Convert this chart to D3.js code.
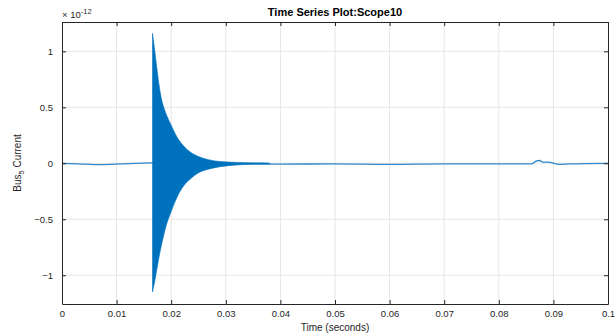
<!DOCTYPE html>
<html><head><meta charset="utf-8">
<script src="https://cdn.jsdelivr.net/npm/d3@7"></script>
<style>body{margin:0;background:#fff}svg{display:block;font-family:"Liberation Sans",Arial,sans-serif}</style>
</head><body><svg id="c" width="615" height="333"></svg>
<script>
// Baseline signal (units of 1e-12)
const baseT = [0,0.003,0.006,0.009,0.012,0.0165,0.02,0.03,0.04,0.05,0.06,0.07,0.08,0.086,0.0868,0.0875,0.088,0.089,0.0905,0.091,0.093,0.1];
const baseV = [0,-0.005,-0.012,-0.01,-0.003,0.003,0,0,-0.008,-0.005,-0.01,-0.005,-0.005,-0.005,0.02,0.025,0.01,0.01,-0.005,-0.01,-0.005,0];
// Oscillation burst envelope (upper / lower), units of 1e-12
const burstT = [0.01658,0.0170,0.0175,0.0180,0.0185,0.0190,0.0200,0.0210,0.0220,0.0235,0.0250,0.0270,0.0290,0.0320,0.0350,0.0380];
const burstHi = [1.16,1.0,0.80,0.63,0.52,0.45,0.34,0.24,0.17,0.10,0.06,0.03,0.015,0.008,0.004,0.002];
const burstLo = [-1.15,-1.05,-0.91,-0.78,-0.67,-0.57,-0.43,-0.31,-0.22,-0.14,-0.085,-0.05,-0.03,-0.015,-0.008,-0.004];
const xTicks = [0,0.01,0.02,0.03,0.04,0.05,0.06,0.07,0.08,0.09,0.1];
const yTicks = [-1,-0.5,0,0.5,1];

const svg = d3.select("#c");
const L=62,R=608,T=22,B=304;
const x = d3.scaleLinear().domain([0,0.1]).range([L,R]);
const y = d3.scaleLinear().domain([-1.257,1.262]).range([B,T]);
const axisCol="#262626", textCol="#262626";

// grid
svg.append("g").selectAll("line").data(xTicks.slice(1,-1)).join("line")
  .attr("x1",d=>x(d)).attr("x2",d=>x(d)).attr("y1",T).attr("y2",B)
  .attr("stroke","#e6e6e6").attr("stroke-width",1);
svg.append("g").selectAll("line").data(yTicks).join("line")
  .attr("x1",L).attr("x2",R).attr("y1",d=>y(d)).attr("y2",d=>y(d))
  .attr("stroke","#e6e6e6").attr("stroke-width",1);

// data
const base = baseT.map((t,i)=>({t,v:baseV[i]}));
svg.append("path").datum(base)
  .attr("d",d3.line().x(d=>x(d.t)).y(d=>y(d.v)).curve(d3.curveMonotoneX))
  .attr("fill","none").attr("stroke","#2f86c8").attr("stroke-width",1.3);
const burst = burstT.map((t,i)=>({t,hi:burstHi[i],lo:burstLo[i]}));
svg.append("path").datum(burst)
  .attr("d",d3.area().x(d=>x(d.t)).y0(d=>y(d.lo)).y1(d=>y(d.hi)).curve(d3.curveMonotoneX))
  .attr("fill","#0072BD").attr("stroke","#0072BD").attr("stroke-width",0.6);

// axes
const ax = svg.append("g").attr("transform",`translate(0,${B})`)
  .call(d3.axisBottom(x).tickValues(xTicks).tickSizeInner(-4).tickSizeOuter(0).tickPadding(6).tickFormat(d3.format("~g")));
const ay = svg.append("g").attr("transform",`translate(${L},0)`)
  .call(d3.axisLeft(y).tickValues(yTicks).tickSizeInner(-4).tickSizeOuter(0).tickPadding(9).tickFormat(d3.format("~g")));
svg.append("g").attr("transform",`translate(0,${T})`)
  .call(d3.axisTop(x).tickValues(xTicks).tickSizeInner(-4).tickSizeOuter(0).tickFormat(""));
svg.append("g").attr("transform",`translate(${R},0)`)
  .call(d3.axisRight(y).tickValues(yTicks).tickSizeInner(-4).tickSizeOuter(0).tickFormat(""));
svg.selectAll(".domain").attr("stroke",axisCol).attr("stroke-width",1);
svg.selectAll(".tick line").attr("stroke",axisCol);
svg.selectAll(".tick text").attr("fill",textCol).attr("font-size",9.5).attr("font-family","Liberation Sans,Arial,sans-serif");
ay.selectAll(".tick text").attr("dy","0.35em");

// title
svg.append("text").attr("x",335).attr("y",16).attr("text-anchor","middle")
  .attr("font-size",11).attr("font-weight","bold").attr("fill","#000").text("Time Series Plot:Scope10");
// exponent
const ex = svg.append("text").attr("x",62).attr("y",18).attr("font-size",9.5).attr("fill",textCol);
ex.append("tspan").text("\u00d7 10");
ex.append("tspan").attr("dy",-4).attr("font-size",7.5).text("-12");
// x label
svg.append("text").attr("x",335).attr("y",331).attr("text-anchor","middle")
  .attr("font-size",10).attr("fill",textCol).text("Time (seconds)");
// y label
const yl = svg.append("text").attr("transform","translate(21,163) rotate(-90)").attr("text-anchor","middle")
  .attr("font-size",10).attr("fill",textCol);
yl.append("tspan").text("Bus");
yl.append("tspan").attr("dy",3).attr("font-size",7.5).text("5");
yl.append("tspan").attr("dy",-3).text(" Current");
</script></body></html>
